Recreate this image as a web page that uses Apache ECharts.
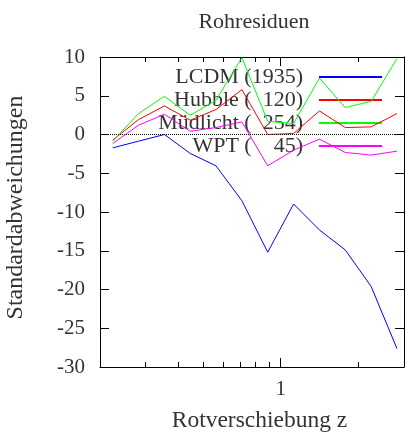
<!DOCTYPE html>
<html><head><meta charset="utf-8">
<script src="https://cdn.jsdelivr.net/npm/echarts@6/dist/echarts.min.js"></script>
<style>html,body{margin:0;padding:0;background:#fff}#c{width:408px;height:434px}</style>
</head><body><div id="c"></div>
<script>
const zValues = [0.224, 0.282, 0.355, 0.447, 0.562, 0.708, 0.891, 1.122, 1.413, 1.778, 2.239, 2.818];
const lcdm = [-1.72, -0.86, 0.0, -2.45, -4.04, -8.55, -15.19, -8.97, -12.32, -14.89, -19.61, -27.63];
const hubble = [-0.73, 1.93, 3.68, 1.84, 3.22, 5.79, 0.0, 0.13, 3.04, 0.90, 0.98, 2.70];
const muedlicht = [-0.86, 2.70, 4.93, 2.48, 4.41, 9.91, 1.71, 1.42, 7.28, 3.47, 4.29, 9.78];
const wpt = [-1.16, 1.20, 2.61, 0.42, 0.90, 1.62, -4.04, -2.02, -0.60, -2.32, -2.66, -2.15];
const seriesNames = ['LCDM (1935)', 'Hubble (\u2007120)', 'Müdlicht (\u2007254)', 'WPT (\u2007\u200745)'];
const seriesColors = ['#0000ff', '#ff0000', '#00ff00', '#ff00ff'];
const xMinorTicks = [0.2, 0.3, 0.4, 0.5, 0.6, 0.7, 0.8, 0.9, 2, 3];
const xMajorTicks = [1];
const xLabels = [1];
const X_MIN = 0.2, X_MAX = 3;

const FONT = 'Liberation Serif';
const TXT = '#333';
const chart = echarts.init(document.getElementById('c'), null, {renderer: 'canvas'});
const allData = [lcdm, hubble, muedlicht, wpt];
const lg = v => Math.log10(v);

function dataAx(pos, labels, name) {
  return {
    type: 'log', logBase: 10, min: X_MIN, max: X_MAX, position: pos,
    axisLine: {show: true, onZero: false, lineStyle: {color: '#000', width: 1}},
    axisTick: {show: false},
    axisLabel: labels ? {show: true, customValues: labels, fontSize: 21, fontFamily: FONT, color: TXT, margin: 12} : {show: false},
    splitLine: {show: false}, minorTick: {show: false},
    name: name || '', nameLocation: 'middle', nameGap: 42,
    nameTextStyle: {fontSize: 23.5, fontFamily: FONT, color: TXT, padding: [0, 0, 0, 15]}
  };
}
function tickAx(pos, ticks, len) {
  return {
    type: 'value', min: lg(X_MIN), max: lg(X_MAX), position: pos,
    axisLine: {show: false, onZero: false},
    axisTick: {show: true, inside: true, length: len, customValues: ticks.map(lg), lineStyle: {color: '#000', width: 1}},
    axisLabel: {show: false}, splitLine: {show: false}
  };
}
function yAx(pos, labels, name) {
  return {
    type: 'value', min: -30, max: 10, interval: 5, position: pos,
    axisLine: {show: true, onZero: false, lineStyle: {color: '#000', width: 1}},
    axisTick: {show: true, inside: true, length: 9, lineStyle: {color: '#000', width: 1}},
    axisLabel: {show: labels, fontSize: 21, fontFamily: FONT, color: TXT, margin: 15},
    splitLine: {show: false},
    name: name || '', nameLocation: 'middle', nameGap: 72, nameRotate: 90,
    nameTextStyle: {fontSize: 24, fontFamily: FONT, color: TXT, padding: [0, 0, 0, 9]}
  };
}

const option = {
  animation: false,
  backgroundColor: '#fff',
  title: {text: 'Rohresiduen', left: 249, textAlign: 'center', top: 6,
    textStyle: {fontSize: 22, fontFamily: FONT, color: TXT, fontWeight: 'normal'}},
  grid: {left: 100, right: 4, top: 57, bottom: 67, outerBoundsMode: 'none', containLabel: false},
  legend: {
    orient: 'vertical', align: 'right', right: 25, top: 66, padding: 0,
    itemWidth: 63, itemHeight: 14, itemGap: 1,
    itemStyle: {opacity: 0},
    data: seriesNames,
    textStyle: {fontSize: 22, fontFamily: FONT, color: TXT, lineHeight: 22, padding: [0, 11, 0, 0]}
  },
  xAxis: [
    dataAx('bottom', xLabels, 'Rotverschiebung z'),
    tickAx('bottom', xMinorTicks, 5),
    tickAx('bottom', xMajorTicks, 9),
    dataAx('top', null),
    tickAx('top', xMinorTicks, 5),
    tickAx('top', xMajorTicks, 9)
  ],
  yAxis: [yAx('left', true, 'Standardabweichungen'), yAx('right', false)],
  series: seriesNames.map((n, i) => ({
    name: n, type: 'line', xAxisIndex: 0, yAxisIndex: 0,
    symbol: 'none', showSymbol: false,
    data: zValues.map((z, j) => [z, allData[i][j]]),
    lineStyle: {color: seriesColors[i], width: 1},
    itemStyle: {color: seriesColors[i]},
    z: 3 + i,
    markLine: i === 0 ? {
      silent: true, symbol: ['none', 'none'], label: {show: false},
      lineStyle: {type: 'dotted', color: '#000', width: 1},
      data: [{yAxis: 0}]
    } : undefined
  }))
};
chart.setOption(option);
</script></body></html>
